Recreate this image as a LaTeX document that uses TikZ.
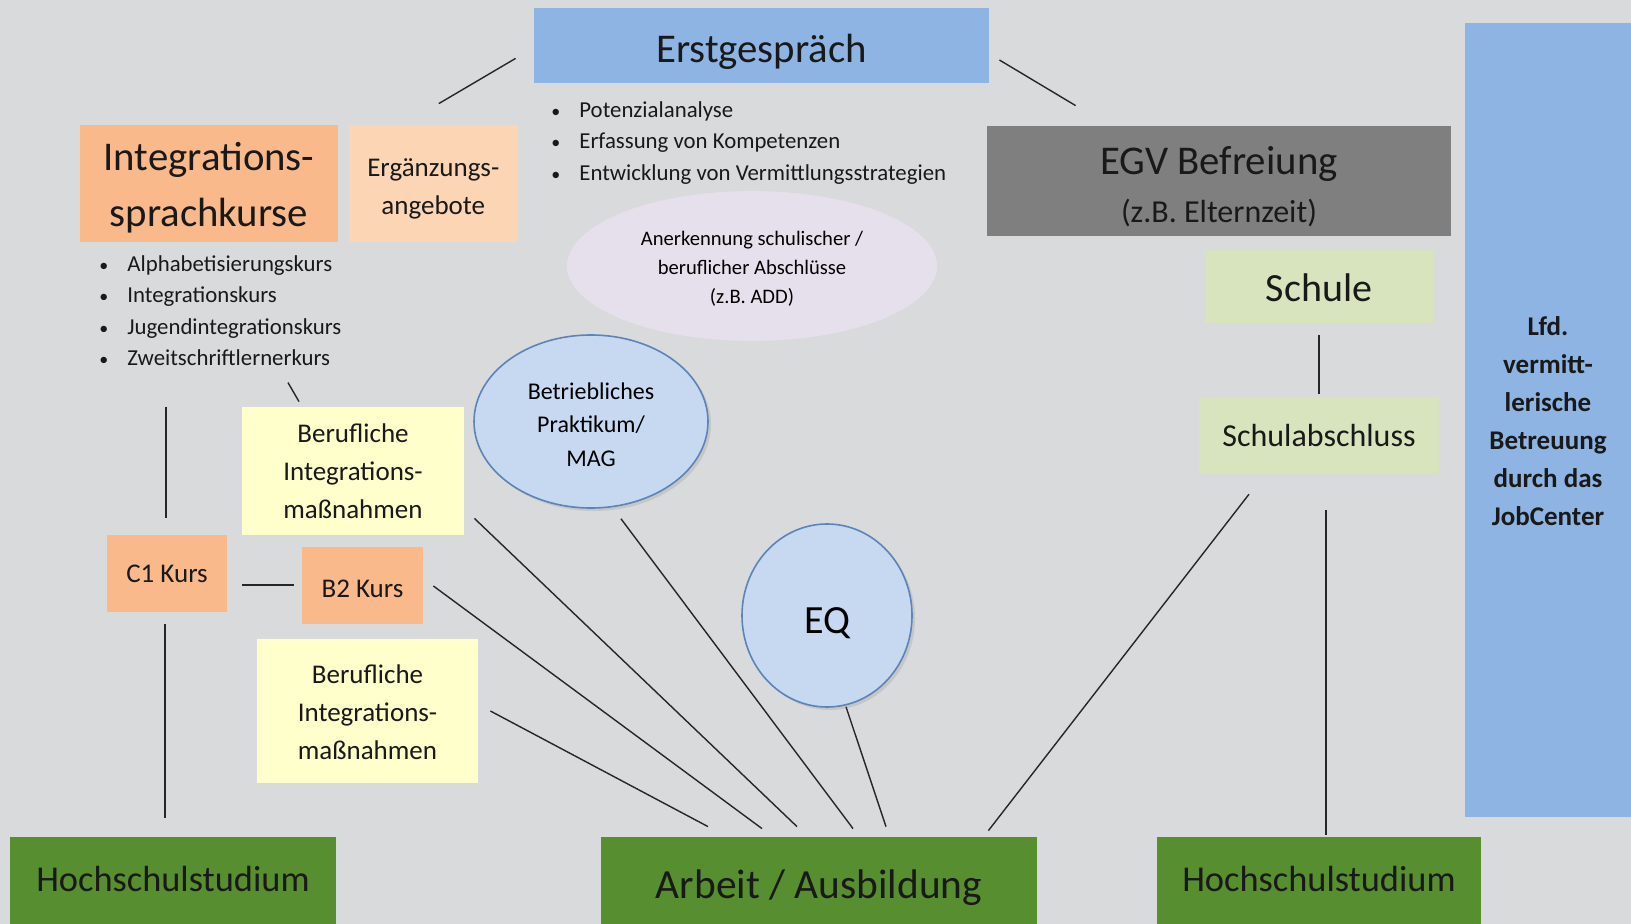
\documentclass[tikz,border=0pt]{standalone}
\usepackage{fontspec}
\setmainfont{Carlito}
\usetikzlibrary{calc,positioning,shapes.geometric,shadows}

\definecolor{bggray}{HTML}{D9DADB}
\definecolor{headblue}{HTML}{8DB4E2}
\definecolor{kursorange}{HTML}{FAB98B}
\definecolor{paleorange}{HTML}{FCD5B5}
\definecolor{lavender}{HTML}{E5E0EC}
\definecolor{egvgray}{HTML}{7F7F7F}
\definecolor{palegreen}{HTML}{D7E4BD}
\definecolor{circblue}{HTML}{C6D9F1}
\definecolor{rimblue}{HTML}{5B84B8}
\definecolor{paleyellow}{HTML}{FFFFCC}
\definecolor{goalgreen}{HTML}{578E2F}

\newcommand{\txtsize}[2]{\fontsize{#1}{#2}\selectfont}
\newcommand{\itm}[1]{\makebox[14pt][l]{{\txtsize{9}{9}\textbullet}}#1}
% pad the top of a line, so that the text sits lower in its box
\newcommand{\padtop}[2]{\raisebox{0pt}[\dimexpr\height+#1\relax][\depth]{#2}}

\tikzset{
  box/.style={rectangle, inner sep=0pt, align=center, text=black!90},
  bubble/.style={ellipse, inner sep=0pt, align=center, fill=circblue, draw=rimblue,
    line width=0.8pt, drop shadow={opacity=0.22, shadow xshift=1.5pt, shadow yshift=-1.5pt}},
  goal/.style={box, fill=goalgreen, minimum height=48pt},
  bullets/.style={inner sep=0pt, align=left, anchor=west, text=black!90},
  link/.style={line width=0.7pt, black!85}
}

\begin{document}
\begin{tikzpicture}[x=0.5pt, y=-0.5pt]
  \useasboundingbox (0,0) rectangle (1631,924);
  \fill[bggray] (0,0) rectangle (1631,924);

  % top row
  \node[box, fill=headblue, minimum width=227.5pt, minimum height=37.5pt, font=\txtsize{20.4}{24}] (erst) at (761.5,45.5) {\padtop{6.2pt}{Erstgespräch}};
  \node[bullets, font=\txtsize{11.4}{15.8}] (erstlist) at (551,143)
    {\itm{Potenzialanalyse}\\\itm{Erfassung von Kompetenzen}\\\itm{Entwicklung von Vermittlungsstrategien}};
  \node[box, fill=kursorange, minimum width=129pt, minimum height=58.5pt, font=\txtsize{20.4}{28}] (integ) at (209,183.5) {\padtop{4.2pt}{Integrations-}\\sprachkurse};
  \node[box, fill=paleorange, right=5pt of integ, minimum width=84.5pt, minimum height=58.5pt, font=\txtsize{13.5}{19}] (erg) {\padtop{5.5pt}{Ergänzungs-}\\angebote};
  \node[bullets, font=\txtsize{11.4}{15.75}] (intlist) at (99,310.5)
    {\itm{Alphabetisierungskurs}\\\itm{Integrationskurs}\\\itm{Jugendintegrationskurs}\\\itm{Zweitschriftlernerkurs}};
  \node[ellipse, inner sep=0pt, align=center, fill=lavender, minimum width=185pt, minimum height=75pt, font=\txtsize{10.3}{14.5}] (anerk) at (752,266)
    {\padtop{2.6pt}{Anerkennung schulischer /}\\beruflicher Abschlüsse\\(z.B. ADD)};
  \node[box, fill=egvgray, minimum width=232pt, minimum height=55pt, font=\txtsize{20.4}{24}] (egv) at (1219,181)
    {\padtop{6pt}{EGV Befreiung}\\{\txtsize{16}{24}(z.B. Elternzeit)}};
  \node[box, fill=palegreen, minimum width=114pt, minimum height=36.5pt, font=\txtsize{20}{24}] (schule) at (1319,286.5) {\padtop{1pt}{Schule}};
  \node[box, fill=palegreen, below=36.5pt of schule, minimum width=120pt, minimum height=38pt, font=\txtsize{16}{20}] (schulab) {\padtop{1pt}{Schulabschluss}};
  \node[box, fill=headblue, minimum width=83pt, minimum height=397pt, font=\bfseries\txtsize{13.5}{19}] (jobc) at (1548,420)
    {\padtop{1pt}{Lfd.}\\vermitt-\\lerische\\Betreuung\\durch das\\JobCenter};

  % middle
  \node[bubble, minimum width=117pt, minimum height=86.5pt, font=\txtsize{12}{16.8}] (prak) at (591,421.5) {\padtop{3pt}{Betriebliches}\\Praktikum/\\MAG};
  \node[bubble, minimum width=85pt, minimum height=91.5pt, font=\txtsize{20}{24}] (eq) at (827,615.5) {\padtop{7.3pt}{EQ}};
  \node[box, fill=paleyellow, minimum width=111pt, minimum height=64pt, font=\txtsize{13.5}{19}] (bim1) at (353,471) {Berufliche\\Integrations-\\maßnahmen};
  \node[box, fill=paleyellow, minimum width=110.5pt, minimum height=72pt, font=\txtsize{13.5}{19}] (bim2) at (367.5,711) {\padtop{1.5pt}{Berufliche}\\Integrations-\\maßnahmen};
  \node[box, fill=kursorange, minimum width=60pt, minimum height=38.5pt, font=\txtsize{13.5}{16}] (c1) at (167,573.5) {C1 Kurs};
  \node[box, fill=kursorange, minimum width=60.5pt, minimum height=38.5pt, font=\txtsize{13.5}{16}] (b2) at (362.5,585.5) {\padtop{3.1pt}{B2 Kurs}};

  % bottom row
  \node[goal, minimum width=163pt, text depth=6pt, font=\txtsize{18.2}{22}] (hsl) at (173,885) {Hochschulstudium};
  \node[goal, minimum width=218pt, font=\txtsize{20.7}{24}] (arbeit) at (819,885) {\padtop{3.1pt}{Arbeit / Ausbildung}};
  \node[goal, minimum width=162pt, text depth=6pt, font=\txtsize{18.2}{22}] (hsr) at (1319,885) {Hochschulstudium};

  % connectors
  \draw[link] ($(erg.north)+(5.5,-21)$) -- ($(erst.south west)+(-18,-25)$);
  \draw[link] ($(erst.east)+(10,14.5)$) -- ($(egv.north west)+(89,-20)$);
  \draw[link] ($(schule.south)+(0,12)$) -- ($(schulab.north)+(0,-2)$);
  \draw[link] ($(schulab.south)+(7,37)$) -- ($(hsr.north)+(7,-2)$);
  \draw[link] ($(schulab.south)+(-70,21)$) -- ($(arbeit.north east)+(-49,-6)$);
  \draw[link] ($(bim1.north)+(-65,-24)$) -- ($(bim1.north)+(-54,-5)$);
  \draw[link] ($(c1.north)+(-1,-128)$) -- ($(c1.north)+(-1,-17)$);
  \draw[link] ($(c1.south)+(-2,12)$) -- ($(c1.south |- hsl.north)+(-2,-19)$);
  \draw[link] ($(c1.east)+(15,11.5)$) -- ($(b2.west)+(-8,-0.5)$);
  \draw[link] ($(bim2.east)+(12,0)$) -- ($(arbeit.north)+(-111,-10)$);
  \draw[link] ($(b2.east)+(10,0.5)$) -- ($(arbeit.north)+(-57,-8)$);
  \draw[link] ($(bim1.south east)+(10,-17)$) -- ($(arbeit.north)+(-22,-10)$);
  \draw[link] ($(prak.south)+(30,10)$) -- ($(arbeit.north)+(34,-8)$);
  \draw[link] ($(eq.south)+(19,-1)$) -- ($(arbeit.north)+(67,-10)$);
\end{tikzpicture}
\end{document}
